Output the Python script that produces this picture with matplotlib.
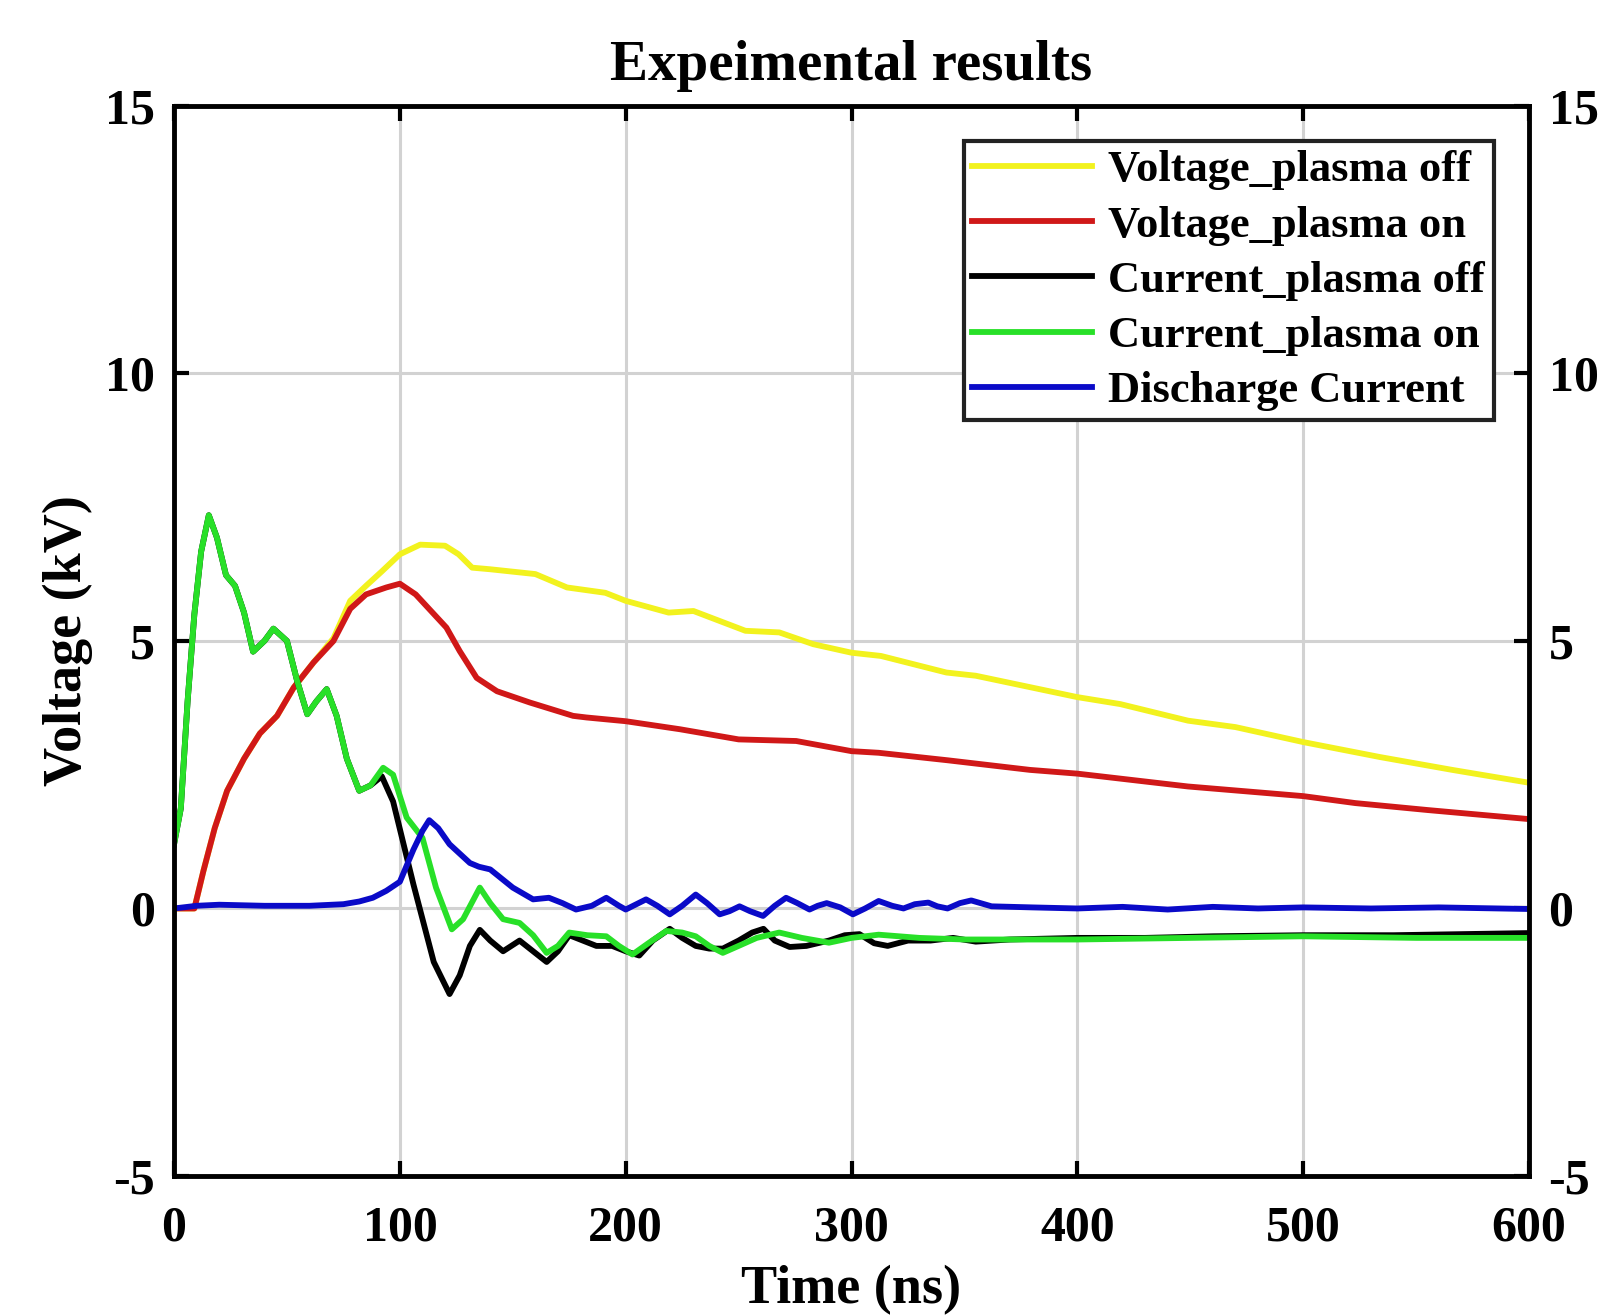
import numpy as np
import matplotlib
matplotlib.use('Agg')
import matplotlib.pyplot as plt

plt.rcParams['font.family'] = ['Liberation Serif', 'DejaVu Serif']
plt.rcParams['font.weight'] = 'bold'
plt.rcParams['axes.unicode_minus'] = False

# --- data (time in ns, values in kV) ---
t_v_off = [0, 9, 13, 18, 23.5, 31, 38, 45.6, 53, 61.8, 70.6, 78, 85, 92, 100, 109, 120, 126,
           132, 140, 160, 174, 191, 200, 219, 230, 253, 268, 283, 300, 313, 342, 355, 400,
           419, 449, 470, 500, 534, 566, 600]
v_off = [0, 0, 0.7, 1.5, 2.2, 2.8, 3.27, 3.6, 4.13, 4.6, 5.05, 5.75, 6.03, 6.3, 6.62, 6.8,
         6.78, 6.62, 6.37, 6.34, 6.25, 6.0, 5.9, 5.75, 5.53, 5.56, 5.19, 5.16, 4.94, 4.78,
         4.72, 4.41, 4.35, 3.95, 3.82, 3.51, 3.39, 3.11, 2.83, 2.59, 2.35]

t_v_on = [0, 9, 13, 18, 23.5, 31, 38, 45.6, 53, 61.8, 70.6, 78, 85, 94, 100, 107, 120.6,
          126.5, 134, 143, 157.5, 176.7, 182.6, 200, 224, 250, 275.5, 300, 312, 342.5, 379,
          400, 449, 500, 523, 555, 600]
v_on = [0, 0, 0.7, 1.5, 2.2, 2.8, 3.27, 3.6, 4.13, 4.6, 5.0, 5.6, 5.87, 6.0, 6.07, 5.87, 5.25,
        4.81, 4.31, 4.06, 3.85, 3.6, 3.57, 3.5, 3.35, 3.16, 3.13, 2.94, 2.91, 2.77, 2.59,
        2.52, 2.28, 2.1, 1.97, 1.84, 1.67]

# both current traces share the same first ~90 ns
t_i_early = [0, 3, 6, 9, 12, 15.4, 19, 23, 27, 31, 35, 40, 44, 50, 54.4, 59, 63, 67.6, 72,
             76.5, 82, 87]
i_early = [1.2, 1.87, 3.87, 5.5, 6.67, 7.35, 6.93, 6.23, 6.03, 5.53, 4.8, 5.0, 5.23, 5.0,
           4.27, 3.63, 3.87, 4.1, 3.6, 2.8, 2.2, 2.3]

t_i_off = t_i_early + [92, 97, 106, 115, 122, 126.5, 131, 135.4, 140, 145.7, 153, 159, 165,
                       170, 175, 181, 187, 194, 200, 206, 212, 219.5, 225, 231, 237, 243, 250,
                       256, 261, 266, 272.6, 280, 290, 297, 303.5, 310, 316, 325, 335, 345,
                       355, 370, 400, 430, 460, 500, 540, 570, 600]
i_off = i_early + [2.47, 2.0, 0.45, -1.0, -1.6, -1.25, -0.7, -0.4, -0.6, -0.8, -0.6, -0.8,
                   -1.0, -0.8, -0.5, -0.6, -0.7, -0.7, -0.8, -0.88, -0.6, -0.38, -0.55, -0.7,
                   -0.75, -0.75, -0.6, -0.45, -0.38, -0.6, -0.72, -0.7, -0.6, -0.5, -0.48,
                   -0.65, -0.7, -0.6, -0.6, -0.55, -0.62, -0.58, -0.55, -0.55, -0.52, -0.5,
                   -0.5, -0.48, -0.46]

t_i_on = t_i_early + [92.6, 97, 103, 110, 116, 123, 128, 135.4, 140, 145.7, 153, 159, 165,
                      170, 175, 183, 191.4, 197, 203, 210, 218, 225, 231, 237, 243, 250, 258,
                      268, 278, 290, 300, 312, 330, 350, 400, 450, 500, 550, 600]
i_on = i_early + [2.63, 2.5, 1.7, 1.32, 0.39, -0.39, -0.2, 0.39, 0.1, -0.2, -0.27, -0.5,
                  -0.83, -0.7, -0.45, -0.5, -0.52, -0.7, -0.86, -0.65, -0.42, -0.45, -0.52,
                  -0.7, -0.83, -0.7, -0.55, -0.45, -0.55, -0.64, -0.55, -0.49, -0.55, -0.58,
                  -0.58, -0.55, -0.52, -0.55, -0.55]

t_dis = [0, 10, 20, 40, 60, 75, 82, 88, 94, 100, 106, 110, 113, 117, 122, 131, 135, 140, 150,
         159, 166, 172, 178, 185, 191.4, 197, 200, 209, 214, 219.5, 225, 231, 236, 241.6, 246,
         250.4, 255, 260.8, 266, 271, 276, 281.4, 285, 289, 295, 300.6, 306, 312, 318, 323,
         328, 334, 338, 342.5, 348, 353, 362, 380, 400, 420, 440, 460, 480, 500, 530, 560, 600]
i_dis = [0.0, 0.05, 0.07, 0.05, 0.05, 0.08, 0.13, 0.2, 0.33, 0.5, 1.1, 1.45, 1.65, 1.5, 1.2,
         0.85, 0.78, 0.73, 0.39, 0.17, 0.2, 0.1, -0.02, 0.05, 0.2, 0.05, -0.02, 0.17, 0.05,
         -0.11, 0.05, 0.26, 0.1, -0.11, -0.05, 0.04, -0.05, -0.14, 0.05, 0.2, 0.1, -0.02, 0.05,
         0.1, 0.02, -0.11, 0.0, 0.14, 0.05, 0.0, 0.08, 0.11, 0.04, 0.0, 0.1, 0.15, 0.04, 0.02,
         0.0, 0.03, -0.02, 0.03, 0.0, 0.02, 0.0, 0.02, -0.01]

labels = ['Voltage_plasma off', 'Voltage_plasma on', 'Current_plasma off',
          'Current_plasma on', 'Discharge Current']
colors = ['#f2f21e', '#d01818', '#000000', '#28e028', '#0a0ac8']

fig = plt.figure(figsize=(16.07, 13.16), dpi=100)
ax = fig.add_axes([0.1083, 0.1064, 0.8432, 0.8131])

series = [(t_v_off, v_off), (t_v_on, v_on), (t_i_off, i_off), (t_i_on, i_on), (t_dis, i_dis)]
for (t, v), lab, c in zip(series, labels, colors):
    ax.plot(t, v, color=c, lw=4.2, label=lab, solid_joinstyle='round')

ax.set_xlim(0, 600)
ax.set_ylim(-5, 15)
ax.set_xticks(np.arange(0, 601, 100))
ax.set_yticks([-5, 0, 5, 10, 15])
ax.grid(True, color='#d2d2d2', lw=2.2)
ax.set_axisbelow(True)

# matlab style box: ticks inside on all four sides, labels left and right
ax.tick_params(direction='in', top=True, right=True, labelright=True,
               length=11, width=3, labelsize=36, pad=14)
ax.tick_params(axis='x', pad=21)
for s in ax.spines.values():
    s.set_linewidth(3.5)

ax.set_title('Expeimental results', fontsize=41, fontweight='bold', pad=19)
ax.set_xlabel('Time (ns)', fontsize=39, fontweight='bold', labelpad=10)
ax.set_ylabel('Voltage (kV)', fontsize=39, fontweight='bold', labelpad=8)

leg = ax.legend(loc='upper right', fontsize=32, handlelength=2.7, handletextpad=0.35,
                labelspacing=0.34, borderpad=0.2, borderaxespad=0.8, fancybox=False,
                framealpha=1)
leg.get_frame().set_edgecolor('#222222')
leg.get_frame().set_linewidth(3)

plt.savefig('out.png', dpi=100)
